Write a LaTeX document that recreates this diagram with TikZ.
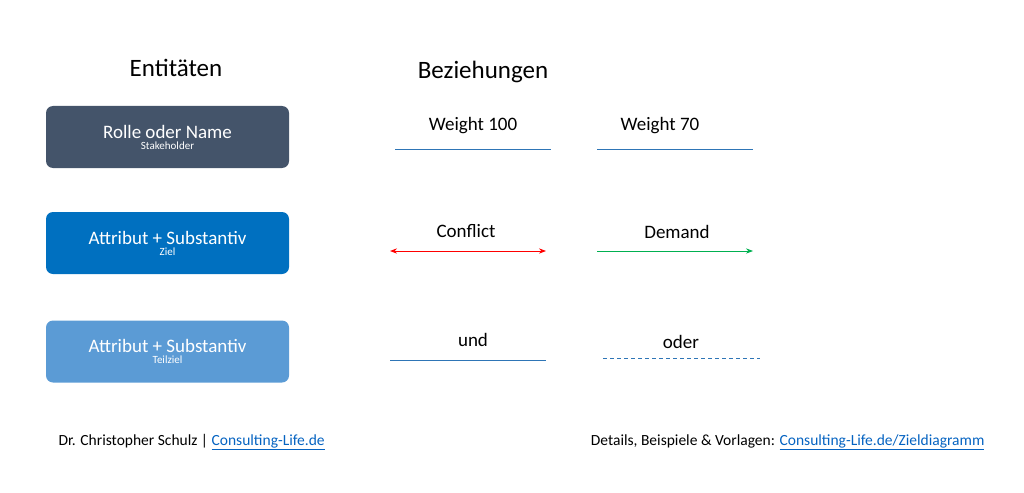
\documentclass[tikz,border=0pt]{standalone}
\usepackage{fontspec}
\setmainfont{Carlito}
\usetikzlibrary{arrows.meta}
\definecolor{c1}{HTML}{44546A}
\definecolor{c2}{HTML}{0070C0}
\definecolor{c3}{HTML}{5B9BD5}
\definecolor{ln}{HTML}{2E75B6}
\definecolor{lk}{HTML}{0563C1}
\definecolor{gr}{HTML}{00B050}
\begin{document}
\begin{tikzpicture}[x=1pt,y=-1pt,
 ent/.style={rounded corners=7pt,minimum width=243pt,minimum height=62pt,text=white,align=center,inner sep=0pt},
 lbl/.style={font=\fontsize{19}{22}\selectfont},
 rel/.style={draw=ln,line width=0.9pt},
 lnk/.style={text=lk}]
\useasboundingbox (0,0) rectangle (1024,492);
\node[lbl,font=\fontsize{25}{28}\selectfont] (h1) at (176,68) {Entitäten};
\node[lbl,font=\fontsize{25}{28}\selectfont] (h2) at (483,72) {Beziehungen};
\node[ent,fill=c1] (b1) at (167.5,137) {{\fontsize{19}{22}\selectfont Rolle oder Name}\\[-1pt]{\fontsize{11}{13}\selectfont Stakeholder}};
\node[ent,fill=c2] (b2) at (167.5,243) {{\fontsize{19}{22}\selectfont Attribut + Substantiv}\\[-1pt]{\fontsize{11}{13}\selectfont Ziel}};
\node[ent,fill=c3] (b3) at (167.5,351.5) {{\fontsize{19}{22}\selectfont Attribut + Substantiv}\\[-1pt]{\fontsize{11}{13}\selectfont Teilziel}};
\node[lbl] (w1) at (473,126) {Weight 100};
\node[lbl] (w2) at (660,126) {Weight 70};
\node[lbl] (t1) at (466,231) {Conflict};
\node[lbl] (t2) at (677,232) {Demand};
\node[lbl] (t3) at (473,340) {und};
\node[lbl] (t4) at (681,342) {oder};
\coordinate (a1) at (395,149); \coordinate (a2) at (551,149);
\coordinate (a3) at (597,149); \coordinate (a4) at (753,149);
\coordinate (a5) at (390,251); \coordinate (a6) at (546,251);
\coordinate (a7) at (597,251); \coordinate (a8) at (753,251);
\coordinate (a9) at (390,360); \coordinate (a10) at (546,360);
\coordinate (a11) at (603,358); \coordinate (a12) at (760,358);
\draw[rel] (a1) -- (a2);
\draw[rel] (a3) -- (a4);
\draw[red,line width=0.9pt,{Stealth[length=7pt]}-{Stealth[length=7pt]}] (a5) -- (a6);
\draw[gr,line width=0.9pt,-{Stealth[length=7pt]}] (a7) -- (a8);
\draw[rel] (a9) -- (a10);
\draw[rel,dash pattern=on 4pt off 3pt] (a11) -- (a12);
\node[anchor=west,font=\fontsize{15.5}{18}\selectfont] (f1) at (55,442) {Dr. Christopher Schulz | \textcolor{lk}{\underline{Consulting-Life.de}}};
\node[anchor=east,font=\fontsize{15.5}{18}\selectfont] (f2) at (988,442) {Details, Beispiele \& Vorlagen: \textcolor{lk}{\underline{Consulting-Life.de/Zieldiagramm}}};
\end{tikzpicture}
\end{document}
